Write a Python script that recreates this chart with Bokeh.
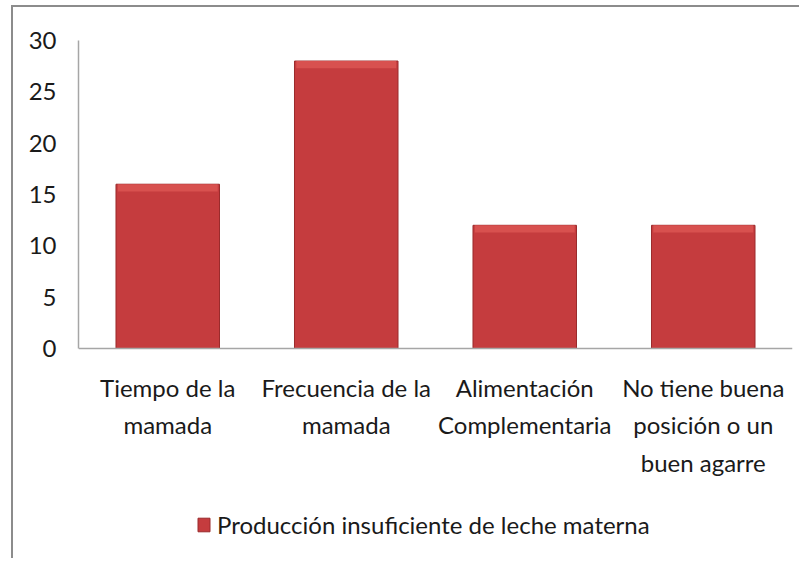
from bokeh.plotting import figure
from bokeh.models import FixedTicker, Legend, LegendItem, ColumnDataSource
from bokeh.embed import file_html
from bokeh.resources import INLINE

categories = ["Tiempo de la\nmamada", "Frecuencia de la\nmamada",
              "Alimentación\nComplementaria", "No tiene buena\nposición o un\nbuen agarre"]
values = [16, 28, 12, 12]
series_name = "Producción insuficiente de leche materna"
y_ticks = [0, 5, 10, 15, 20, 25, 30]

FONT = "Lato"
Y_MAX = 30
# the frame extends below zero so that axis labels and legend live inside it
Y_MIN = -Y_MAX * (516 - 308) / 308

p = figure(x_range=categories, y_range=(Y_MIN, Y_MAX), frame_width=714, frame_height=516,
           output_backend="svg", toolbar_location=None,
           min_border_left=65, min_border_right=7, min_border_top=33, min_border_bottom=2)
p.styles = {"border-left": "2px solid #8c8c8c", "border-top": "2px solid #8c8c8c",
            "margin-left": "11px", "margin-top": "5px"}

src = ColumnDataSource(dict(x=categories, top=values,
                            hl=[v - 0.7 for v in values]))
r = p.vbar(x="x", top="top", width=0.58, source=src,
           fill_color="#c53c3e", line_color="#9a2b2c", line_width=1)
p.vbar(x="x", top="top", bottom="hl", width=0.56, source=src,
       fill_color="#d8514f", line_color=None)

p.outline_line_color = None
p.xgrid.grid_line_color = None
p.ygrid.grid_line_color = None
p.background_fill_color = "white"
p.border_fill_color = "white"

p.xaxis.fixed_location = 0
p.yaxis.bounds = (0, Y_MAX)
p.yaxis.ticker = FixedTicker(ticks=y_ticks)
for ax in (p.xaxis[0], p.yaxis[0]):
    ax.axis_line_color = "#a6a6a6"
    ax.axis_line_width = 1.5
    ax.major_tick_line_color = None
    ax.minor_tick_line_color = None
    ax.major_tick_out = 0
    ax.major_tick_in = 0
    ax.major_label_text_font = FONT
    ax.major_label_text_font_size = "24px"
    ax.major_label_text_color = "#1a1a1a"
p.yaxis.major_label_standoff = 22
p.xaxis.major_label_standoff = 24
p.xaxis.major_label_text_line_height = 1.3

legend = Legend(items=[LegendItem(label=series_name, renderers=[r])],
                orientation="horizontal", location=(118, 17),
                label_text_font=FONT, label_text_font_size="24px",
                label_text_color="#1a1a1a", border_line_color=None,
                background_fill_alpha=0,
                glyph_width=15, glyph_height=17, label_standoff=6,
                margin=0, padding=0)
p.add_layout(legend, "center")

open("out.html", "w").write(file_html(p, INLINE))
